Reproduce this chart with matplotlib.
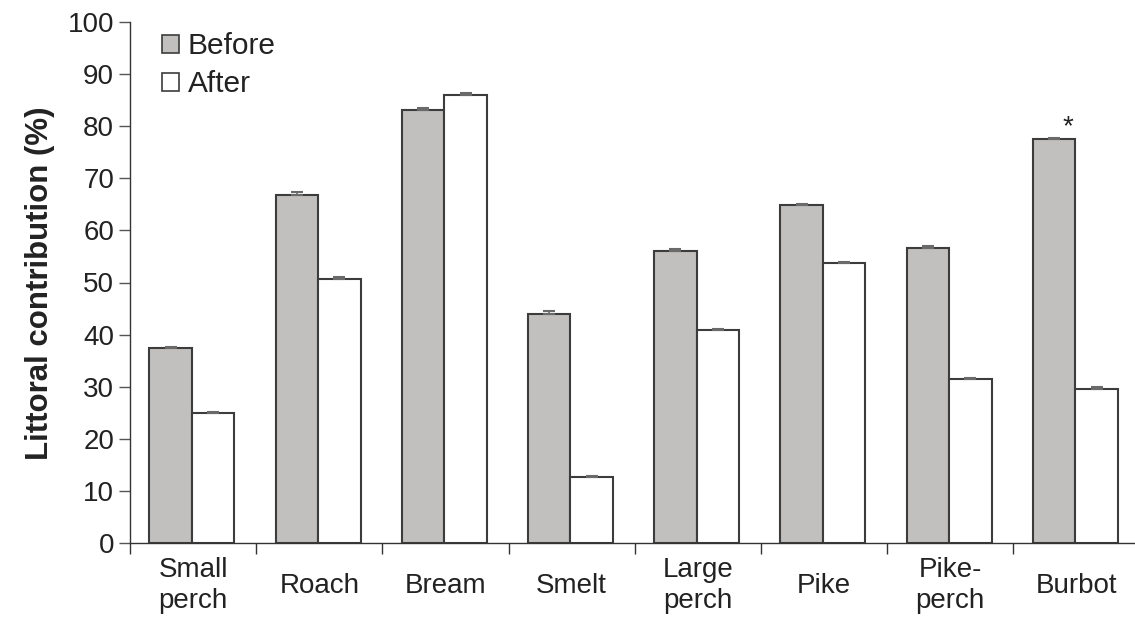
import matplotlib
matplotlib.use("Agg")
import matplotlib.pyplot as plt
from matplotlib.patches import Patch
from matplotlib.ticker import FixedLocator, NullFormatter
import numpy as np

plt.rcParams['font.family'] = ['Liberation Sans', 'DejaVu Sans']

species = ["Small\nperch", "Roach", "Bream", "Smelt", "Large\nperch", "Pike", "Pike-\nperch", "Burbot"]
before = [37.4, 66.7, 83.2, 43.9, 56.1, 64.8, 56.7, 77.5]
after = [25.0, 50.7, 86.0, 12.7, 40.9, 53.7, 31.4, 29.6]
before_err = [0.3, 0.6, 0.3, 0.7, 0.3, 0.2, 0.4, 0.3]
after_err = [0.2, 0.4, 0.3, 0.2, 0.2, 0.2, 0.3, 0.3]
yticks = list(range(0, 101, 10))
significant = ["Burbot"]

text_col = "#222222"
edge_col = "#3c3c3c"
fill_before = "#c1c0be"
fill_after = "#ffffff"

fig = plt.figure(figsize=(11.35, 6.22), dpi=100)
ax = fig.add_axes([130 / 1135, 79 / 622, 1009.6 / 1135, 521 / 622])

x = np.arange(len(species))
w = 0.337
gx = x - 0.01

ax.bar(gx - w / 2, before, width=w, color=fill_before, edgecolor=edge_col, linewidth=1.5, zorder=2)
ax.bar(gx + w / 2, after, width=w, color=fill_after, edgecolor=edge_col, linewidth=1.5, zorder=2)
ax.errorbar(gx - w / 2, before, yerr=[np.zeros(len(before)), before_err], fmt='none',
            ecolor="#6a6a6a", elinewidth=1.2, capsize=4.5, capthick=1.5, zorder=3)
ax.errorbar(gx + w / 2, after, yerr=[np.zeros(len(after)), after_err], fmt='none',
            ecolor="#6a6a6a", elinewidth=1.2, capsize=4.5, capthick=1.5, zorder=3)

for name in significant:
    i = [s.replace("\n", " ") for s in species].index(name)
    ax.text(gx[i] - w / 2 + 0.11, before[i] + before_err[i] - 0.4, "*", ha='center', va='bottom',
            fontsize=20, color=text_col)

ax.set_xlim(-0.5, len(species) - 0.5)
ax.set_ylim(0, 100)
ax.set_yticks(yticks)
ax.set_yticklabels([str(v) for v in yticks], fontsize=20, color=text_col)
ax.tick_params(axis='y', direction='out', length=8, width=1, color="#555555", pad=3.5)

ax.xaxis.set_major_locator(FixedLocator(np.arange(len(species) + 1) - 0.5))
ax.xaxis.set_major_formatter(NullFormatter())
ax.tick_params(axis='x', direction='out', length=8, width=1, color="#333333")
for i, name in enumerate(species):
    ax.text(x[i], -0.0825, name, transform=ax.get_xaxis_transform(), ha='center', va='center',
            fontsize=20, color=text_col, linespacing=1.25)

for side in ['top', 'right']:
    ax.spines[side].set_visible(False)
for side in ['left', 'bottom']:
    ax.spines[side].set_color("#333333")
    ax.spines[side].set_linewidth(1)

fig.text(40 / 1135, ax.get_position().y0 + ax.get_position().height * 0.5 - 0.002,
         "Littoral contribution (%)", rotation=90, ha='center', va='center',
         fontsize=22.5, fontweight='bold', color=text_col)

handles = [Patch(facecolor=fill_before, edgecolor=edge_col, linewidth=1.2, label="Before"),
           Patch(facecolor=fill_after, edgecolor=edge_col, linewidth=1.2, label="After")]
leg = ax.legend(handles=handles, loc='upper left', bbox_to_anchor=(0.02, 1.003), frameon=False,
                fontsize=21.5, handlelength=0.55, handleheight=0.55, handletextpad=0.3,
                labelspacing=0.33, borderaxespad=0)
for t in leg.get_texts():
    t.set_color(text_col)

fig.savefig("out.png", dpi=100)
